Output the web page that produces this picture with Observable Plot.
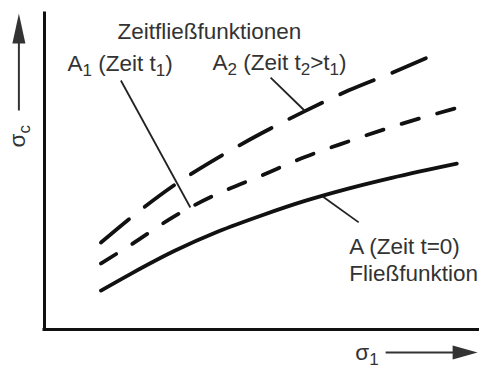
<!DOCTYPE html>
<html>
<head>
<meta charset="utf-8">
<script src="https://cdn.jsdelivr.net/npm/d3@7"></script>
<script src="https://cdn.jsdelivr.net/npm/@observablehq/plot@0.6"></script>
<style>
  html, body { margin: 0; padding: 0; background: #fff; }
</style>
</head>
<body>
<div id="chart"></div>
<script>
// Schematic flow functions σc(σ1): A at t = 0 and the time-dependent A1, A2.
// Units are arbitrary (0–10 on both axes).
const sigma1A  = [1.3, 2, 3, 4, 5, 6, 7, 8, 9.5];
const sigmaCA  = [1.23, 1.77, 2.49, 3.10, 3.61, 4.07, 4.46, 4.80, 5.25];

const sigma1A1 = [1.3, 2, 3, 4, 5, 6, 7, 8, 9.55];
const sigmaCA1 = [2.09, 2.69, 3.59, 4.30, 4.87, 5.46, 5.95, 6.41, 7.03];

const sigma1A2 = [1.3, 2, 3, 4, 5, 6, 7, 8, 8.8];
const sigmaCA2 = [2.75, 3.55, 4.58, 5.44, 6.21, 6.91, 7.56, 8.12, 8.59];

// Labels ("_x" marks a subscript), anchored at the baseline start
const labelText = ["Zeitfließfunktionen", "A_1 (Zeit t_1)", "A_2 (Zeit t_2>t_1)", "A (Zeit t=0)\nFließfunktion"];
const labelX    = [1.68, 0.53, 3.87, 7.02];
const labelY    = [9.18, 8.17, 8.20, 1.55];

// Leader lines from the labels to their curves
const leaderX1 = [1.76, 5.21, 7.24];
const leaderY1 = [7.88, 7.97, 3.39];
const leaderX2 = [3.36, 5.99, 6.41];
const leaderY2 = [3.86, 6.93, 4.21];

// Axis titles with their arrows (drawn in the margins)
const axisTitles = [
  {text: "σ_c", x: -0.45, y: 5.76, rotate: -90},
  {text: "σ_1", x: 7.16, y: -0.95, rotate: 0}
];
const arrowShafts = [
  {x1: -0.59, y1: 6.93, x2: -0.59, y2: 9.5},
  {x1: 7.86, y1: -0.73, x2: 9.5, y2: -0.73}
];
const arrowTips = [
  {x: -0.59, y: 10, dir: "up"},
  {x: 9.98, y: -0.73, dir: "right"}
];

const zip = (xs, ys) => xs.map((x, i) => ({x, y: ys[i]}));
const curveA  = zip(sigma1A,  sigmaCA);
const curveA1 = zip(sigma1A1, sigmaCA1);
const curveA2 = zip(sigma1A2, sigmaCA2);
const labels  = labelText.map((text, i) => ({text, x: labelX[i], y: labelY[i]}));
const leaders = leaderX1.map((x1, i) => ({x1, y1: leaderY1[i], x2: leaderX2[i], y2: leaderY2[i]}));

// Filled, slender arrowheads; the tip sits on the data point
const headUp = {draw(ctx) { ctx.moveTo(0, 0); ctx.lineTo(6.5, 30); ctx.lineTo(-6.5, 30); ctx.closePath(); }};
const headRight = {draw(ctx) { ctx.moveTo(0, 0); ctx.lineTo(-25, -7); ctx.lineTo(-25, 7); ctx.closePath(); }};

const ink = "#111";
const textInk = "#333";
const font = "'Liberation Sans', Arial, Helvetica, sans-serif";

const chart = Plot.plot({
  width: 479,
  height: 367,
  marginLeft: 44,
  marginRight: 1,
  marginTop: 13,
  marginBottom: 38,
  x: {domain: [0, 10], axis: null},
  y: {domain: [0, 10], axis: null},
  style: {fontFamily: font, background: "#fff", overflow: "visible"},
  marks: [
    Plot.ruleX([0], {stroke: ink, strokeWidth: 3, strokeLinecap: "square"}),
    Plot.ruleY([0], {stroke: ink, strokeWidth: 3, strokeLinecap: "square"}),
    Plot.line(curveA,  {x: "x", y: "y", curve: "monotone-x", stroke: ink, strokeWidth: 3.8}),
    Plot.line(curveA1, {x: "x", y: "y", curve: "monotone-x", stroke: ink, strokeWidth: 3.8, strokeDasharray: "18,19"}),
    Plot.line(curveA2, {x: "x", y: "y", curve: "monotone-x", stroke: ink, strokeWidth: 3.8, strokeDasharray: "36.5,20"}),
    Plot.link(leaders, {x1: "x1", y1: "y1", x2: "x2", y2: "y2", stroke: "#222", strokeWidth: 1.8}),
    Plot.link(arrowShafts, {x1: "x1", y1: "y1", x2: "x2", y2: "y2", stroke: textInk, strokeWidth: 2}),
    Plot.dot(arrowTips.filter(d => d.dir === "up"), {x: "x", y: "y", symbol: headUp, fill: textInk, stroke: null, r: 5}),
    Plot.dot(arrowTips.filter(d => d.dir === "right"), {x: "x", y: "y", symbol: headRight, fill: textInk, stroke: null, r: 5}),
    Plot.text(labels, {x: "x", y: "y", text: "text", textAnchor: "start", lineAnchor: "bottom", lineHeight: 1.2, fontSize: 22.5, fill: textInk}),
    Plot.text(axisTitles, {x: "x", y: "y", text: "text", rotate: "rotate", textAnchor: "start", lineAnchor: "bottom", fontSize: 22.5, fill: textInk})
  ]
});

// Turn "_x" into a lowered, smaller tspan
function applySubscripts(svg, size, shift) {
  const ns = "http://www.w3.org/2000/svg";
  for (const t of svg.querySelectorAll("text")) {
    const spans = t.querySelectorAll("tspan");
    const targets = spans.length ? [...spans] : [t];
    for (const el of targets) {
      const s = el.textContent;
      if (!s.includes("_")) continue;
      el.textContent = "";
      const parts = s.split(/_(\w)/);
      let lowered = false;
      parts.forEach((p, i) => {
        if (!p) return;
        const ts = document.createElementNS(ns, "tspan");
        ts.textContent = p;
        if (i % 2) {
          ts.setAttribute("font-size", size);
          ts.setAttribute("dy", shift);
          lowered = true;
        } else if (lowered) {
          ts.setAttribute("dy", -shift);
          lowered = false;
        }
        el.appendChild(ts);
      });
    }
  }
}
applySubscripts(chart, 17, 5);

document.getElementById("chart").appendChild(chart);
</script>
</body>
</html>
